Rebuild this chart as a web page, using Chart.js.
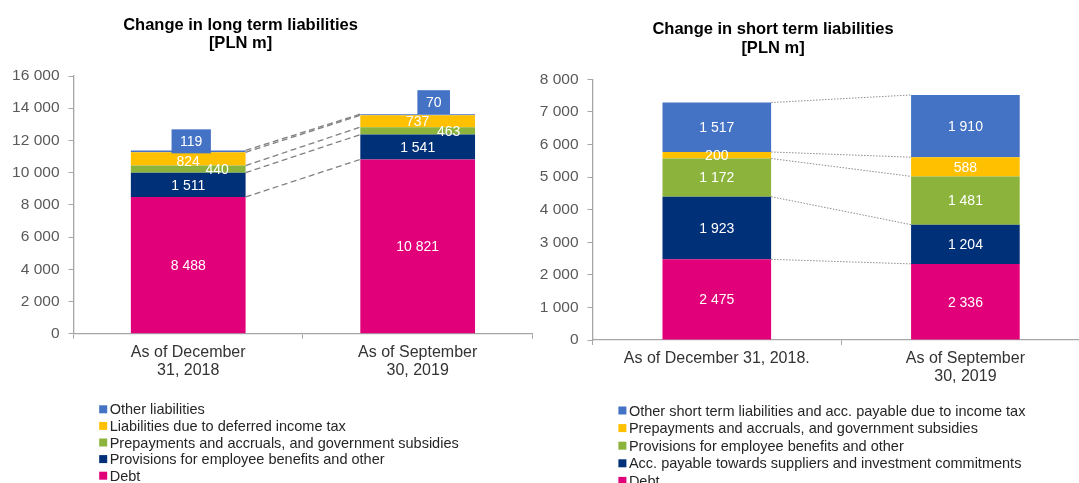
<!DOCTYPE html>
<html>
<head>
<meta charset="utf-8">
<title>Liabilities</title>
<script src="https://cdn.jsdelivr.net/npm/chart.js@4.4.1/dist/chart.umd.min.js"></script>
<style>
    html, body { margin: 0; padding: 0; background: #ffffff; }
    body { width: 1079px; height: 483px; overflow: hidden; position: relative; }
    .panel { position: absolute; top: 0; height: 483px; }
    #longPanel { left: 0; width: 540px; }
    #shortPanel { left: 540px; width: 560px; }
</style>
</head>
<body>
<div class="panel" id="longPanel"><canvas id="longChart"></canvas></div>
<div class="panel" id="shortPanel"><canvas id="shortChart"></canvas></div>

<script>
// long term liabilities [PLN m]
const LONG_CATEGORIES = [["As of December", "31, 2018"], ["As of September", "30, 2019"]];
const LONG_SERIES = [
    "Debt",
    "Provisions for employee benefits and other",
    "Prepayments and accruals, and government subsidies",
    "Liabilities due to deferred income tax",
    "Other liabilities"
];
const LONG_DEBT = [8488, 10821];
const LONG_PROVISIONS = [1511, 1541];
const LONG_PREPAYMENTS = [440, 463];
const LONG_DEFERRED_TAX = [824, 737];
const LONG_OTHER = [119, 70];
const LONG_Y_MAX = 16000;
const LONG_Y_STEP = 2000;

// short term liabilities [PLN m]
const SHORT_CATEGORIES = ["As of December 31, 2018.", ["As of September", "30, 2019"]];
const SHORT_SERIES = [
    "Debt",
    "Acc. payable towards suppliers and investment commitments",
    "Provisions for employee benefits and other",
    "Prepayments and accruals, and government subsidies",
    "Other short term liabilities and acc. payable due to income tax"
];
const SHORT_DEBT = [2475, 2336];
const SHORT_SUPPLIERS = [1923, 1204];
const SHORT_PROVISIONS = [1172, 1481];
const SHORT_PREPAYMENTS = [200, 588];
const SHORT_OTHER = [1517, 1910];
const SHORT_Y_MAX = 8000;
const SHORT_Y_STEP = 1000;

const COLORS = ["#E2007A", "#003078", "#8CB43C", "#FFC000", "#4472C4"];
const FONT = '"Liberation Sans", Arial, sans-serif';

Chart.defaults.font.family = FONT;

function fmt(v) {
    return String(v).replace(/\B(?=(\d{3})+(?!\d))/g, " ");
}

// titles, legend, connector lines and value labels
const panelDecor = {
    id: "panelDecor",
    afterDatasetsDraw(chart, args, opts) {
        const ctx = chart.ctx;
        const metas = chart.data.datasets.map((d, i) => chart.getDatasetMeta(i));

        ctx.save();
        ctx.strokeStyle = opts.link.color;
        ctx.lineWidth = opts.link.width;
        ctx.setLineDash(opts.link.dash);
        metas.forEach(meta => {
            const a = meta.data[0];
            const b = meta.data[1];
            ctx.beginPath();
            ctx.moveTo(a.x + a.width / 2, a.y);
            ctx.lineTo(b.x - b.width / 2, b.y);
            ctx.stroke();
        });
        ctx.restore();

        ctx.save();
        ctx.font = "14px " + FONT;
        ctx.textAlign = "center";
        ctx.textBaseline = "middle";
        metas.forEach((meta, di) => {
            const ds = chart.data.datasets[di];
            meta.data.forEach((bar, i) => {
                const text = fmt(ds.data[i]);
                const shift = opts.labelShift[di + ":" + i] || {};
                const x = bar.x + (shift.dx || 0);
                const y = (bar.y + bar.base) / 2 + (shift.dy || 0);
                if (shift.box) {
                    const w = ctx.measureText(text).width + 17;
                    ctx.fillStyle = ds.backgroundColor;
                    ctx.fillRect(x - w / 2, y - 12, w, 24);
                }
                ctx.fillStyle = "#ffffff";
                ctx.fillText(text, x, y + 1);
            });
        });
        ctx.restore();
    },
    afterDraw(chart, args, opts) {
        const ctx = chart.ctx;
        ctx.save();
        ctx.fillStyle = "#000000";
        ctx.font = "bold 16.5px " + FONT;
        ctx.textAlign = "center";
        ctx.textBaseline = "middle";
        opts.title.lines.forEach((line, i) => {
            ctx.fillText(line, opts.title.x, opts.title.y + i * opts.title.gap);
        });

        ctx.font = "14.5px " + FONT;
        ctx.textAlign = "left";
        const items = chart.data.datasets.slice().reverse();
        items.forEach((ds, i) => {
            const y = opts.legend.y + i * opts.legend.step;
            ctx.fillStyle = ds.backgroundColor;
            ctx.fillRect(opts.legend.x, y - 4, 8, 8);
            ctx.fillStyle = "#262626";
            ctx.fillText(ds.label, opts.legend.x + 10.5, y + 1);
        });
        ctx.restore();
    }
};

function buildChart(canvasId, p) {
    const datasets = p.series.map((name, i) => ({
        label: name,
        data: p.values[i],
        backgroundColor: COLORS[i],
        borderWidth: 0,
        barPercentage: p.barPercentage,
        categoryPercentage: 1
    }));

    return new Chart(document.getElementById(canvasId), {
        type: "bar",
        data: { labels: p.categories, datasets: datasets },
        plugins: [panelDecor],
        options: {
            responsive: true,
            maintainAspectRatio: false,
            animation: false,
            layout: { padding: p.padding },
            plugins: {
                legend: { display: false },
                title: { display: false },
                tooltip: { enabled: false },
                panelDecor: {
                    title: p.title,
                    legend: p.legend,
                    link: p.link,
                    labelShift: p.labelShift
                }
            },
            scales: {
                x: {
                    stacked: true,
                    afterFit: scale => { scale.height = 60; },
                    grid: { drawOnChartArea: false, tickLength: 5, color: "#A6A6A6" },
                    border: { color: "#A6A6A6", width: 1.3 },
                    ticks: {
                        color: "#333333",
                        padding: 5,
                        maxRotation: 0,
                        autoSkip: false,
                        font: { size: 16, lineHeight: 1.125 }
                    }
                },
                y: {
                    stacked: true,
                    min: 0,
                    max: p.yMax,
                    afterFit: scale => { scale.width = p.axisWidth; },
                    grid: { drawOnChartArea: false, tickLength: 5, color: "#A6A6A6" },
                    border: { color: "#A6A6A6", width: 1.3 },
                    ticks: {
                        stepSize: p.yStep,
                        color: "#595959",
                        padding: 9,
                        font: { size: 15.5 },
                        callback: v => fmt(v)
                    }
                }
            }
        }
    });
}

buildChart("longChart", {
    categories: LONG_CATEGORIES,
    series: LONG_SERIES,
    values: [LONG_DEBT, LONG_PROVISIONS, LONG_PREPAYMENTS, LONG_DEFERRED_TAX, LONG_OTHER],
    yMax: LONG_Y_MAX,
    yStep: LONG_Y_STEP,
    barPercentage: 0.5,
    axisWidth: 73.5,
    padding: { top: 76, right: 7.6, bottom: 89.3, left: 0 },
    title: { lines: ["Change in long term liabilities", "[PLN m]"], x: 240.5, y: 25, gap: 18.3 },
    legend: { x: 99.2, y: 409.3, step: 16.6 },
    link: { color: "#808080", width: 1.3, dash: [6, 3.5] },
    labelShift: {
        "2:0": { dx: 29 },
        "2:1": { dx: 31 },
        "3:0": { dy: 2.5 },
        "4:0": { dx: 3, dy: -10, box: true },
        "4:1": { dx: 16, dy: -12.5, box: true }
    }
});

buildChart("shortChart", {
    categories: SHORT_CATEGORIES,
    series: SHORT_SERIES,
    values: [SHORT_DEBT, SHORT_SUPPLIERS, SHORT_PROVISIONS, SHORT_PREPAYMENTS, SHORT_OTHER],
    yMax: SHORT_Y_MAX,
    yStep: SHORT_Y_STEP,
    barPercentage: 0.437,
    axisWidth: 52.5,
    padding: { top: 79.3, right: 10.3, bottom: 83, left: 0 },
    title: { lines: ["Change in short term liabilities", "[PLN m]"], x: 233, y: 29, gap: 19 },
    legend: { x: 78.4, y: 410.5, step: 17.6 },
    link: { color: "#8C8C8C", width: 1, dash: [1.5, 1.5] },
    labelShift: {}
});
</script>
</body>
</html>
